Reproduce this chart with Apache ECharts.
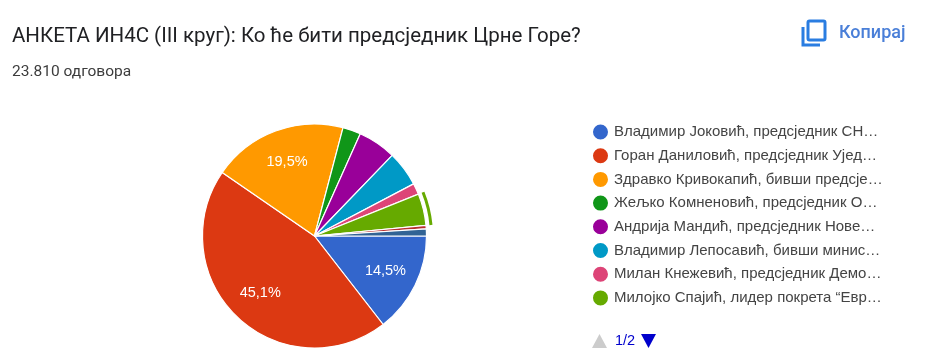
<!DOCTYPE html>
<html><head><meta charset="utf-8">
<style>html,body{margin:0;padding:0;background:#fff}#c{width:930px;height:362px}</style>
<script src="https://cdn.jsdelivr.net/npm/echarts@6/dist/echarts.min.js"></script>
</head><body><div id="c"></div>
<script>
const chartTitle = 'АНКЕТА ИН4С (III круг): Ко ће бити предсједник Црне Горе?';
const responses = '23.810 одговора';
const copyLabel = 'Копирај';
const pageLabel = '1/2';
const candidates = [
  'Владимир Јоковић, предсједник СН…',
  'Горан Даниловић, предсједник Ујед…',
  'Здравко Кривокапић, бивши предсје…',
  'Жељко Комненовић, предсједник О…',
  'Андрија Мандић, предсједник Нове…',
  'Владимир Лепосавић, бивши минис…',
  'Милан Кнежевић, предсједник Демо…',
  'Милојко Спајић, лидер покрета “Евр…',
  'Остали кандидати',
  'Не знам'
];
const shares = [14.5, 45.1, 19.5, 2.6, 5.5, 5.1, 1.6, 4.6, 0.5, 1.0];
const colors = ['#3366cc','#dc3912','#ff9900','#109618','#990099','#0099c6','#dd4477','#66aa00','#b82e2e','#316395'];
const legendPageSize = 8;
const highlighted = 7;

const center = [314.5, 236];
const pieData = candidates.map((n, i) => ({ name: n, value: shares[i] }));
const ringData = candidates.map((n, i) => ({
  name: n, value: shares[i],
  itemStyle: { color: i === highlighted ? colors[i] : 'transparent' }
}));
const labelData = candidates.map((n, i) => ({ name: n, value: shares[i], itemStyle: { color: 'transparent' } }));

const chart = echarts.init(document.getElementById('c'), null, { renderer: 'canvas' });
chart.setOption({
  animation: false,
  color: colors,
  title: [
    { text: chartTitle, left: 12, top: 26, padding: 0, textStyle: { fontFamily: 'Roboto', fontWeight: 400, fontSize: 20.5, color: '#202124' } },
    { text: responses, left: 12, top: 64, padding: 0, textStyle: { fontFamily: 'Roboto', fontWeight: 400, fontSize: 15.5, color: '#3c3c3c' } },
    { text: copyLabel, left: 839, top: 24, padding: 0, textStyle: { fontFamily: 'Roboto', fontWeight: 500, fontSize: 18, color: '#4a7fd8' } }
  ],
  legend: {
    orient: 'vertical',
    left: 591,
    top: 122.5,
    padding: 0,
    itemWidth: 17,
    itemHeight: 17,
    itemGap: 4.7,
    icon: 'circle',
    selectedMode: false,
    data: candidates.slice(0, legendPageSize),
    textStyle: { fontFamily: 'Liberation Sans', fontSize: 15, lineHeight: 17, color: '#444' }
  },
  graphic: [
    { type: 'rect', shape: { x: 808, y: 21, width: 17, height: 19, r: 1.5 }, style: { fill: 'none', stroke: '#2a7de1', lineWidth: 3 } },
    { type: 'polyline', shape: { points: [[803, 27], [803, 45], [820, 45]] }, style: { fill: 'none', stroke: '#2a7de1', lineWidth: 3 } },
    { type: 'polygon', shape: { points: [[592, 348], [607, 348], [599.5, 334]] }, style: { fill: '#cccccc' } },
    { type: 'polygon', shape: { points: [[641, 334], [656, 334], [648.5, 348]] }, style: { fill: '#0000cc' } },
    { type: 'text', x: 615, y: 333, style: { text: pageLabel, fill: '#0000cc', font: '14.5px "Liberation Sans"' } }
  ],
  series: [
    {
      type: 'pie', center, radius: [0, 112], startAngle: 0, clockwise: true,
      data: pieData, label: { show: false }, labelLine: { show: false }, silent: true,
      itemStyle: { borderColor: '#fff', borderWidth: 1.2 }
    },
    {
      type: 'pie', center, radius: [115.5, 118.5], startAngle: 0, clockwise: true,
      data: ringData, label: { show: false }, labelLine: { show: false }, silent: true
    },
    {
      type: 'pie', center, radius: [40, 112], startAngle: 0, clockwise: true,
      data: labelData, silent: true, labelLine: { show: false },
      label: {
        show: true, position: 'inside', color: '#fff', fontFamily: 'Liberation Sans', fontSize: 14.5,
        formatter: p => p.value >= 10 ? p.value.toFixed(1).replace('.', ',') + '%' : ''
      }
    }
  ]
});
</script></body></html>
